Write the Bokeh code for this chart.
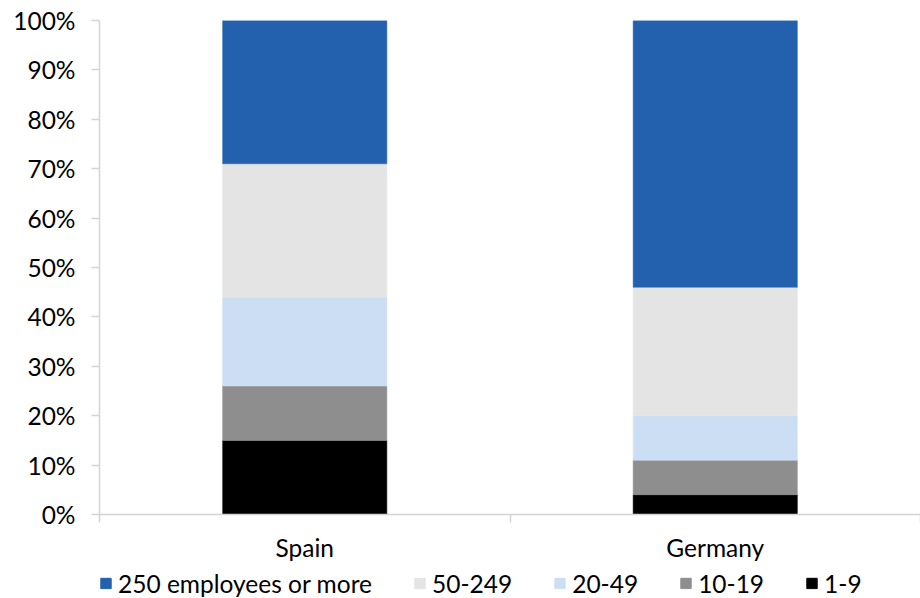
from bokeh.plotting import figure
from bokeh.layouts import column
from bokeh.models import (ColumnDataSource, Range1d, FixedTicker, PrintfTickFormatter,
                          Legend, LegendItem)
from bokeh.embed import file_html
from bokeh.resources import INLINE

categories = ["Spain", "Germany"]
series_names = ["1-9", "10-19", "20-49", "50-249", "250 employees or more"]
s_1_9 = [15, 4]
s_10_19 = [11, 7]
s_20_49 = [18, 9]
s_50_249 = [27, 26]
s_250 = [29, 54]
colors = ["#000000", "#8E8E8E", "#CCDEF3", "#E4E4E4", "#2361AE"]
y_ticks = [0, 10, 20, 30, 40, 50, 60, 70, 80, 90, 100]

FONT = "Lato"
FS = "24.5px"

positions = [i + 0.5 for i in range(len(categories))]
src = ColumnDataSource(dict(x=positions, a=s_1_9, b=s_10_19, c=s_20_49, d=s_50_249, e=s_250))
stackers = ["a", "b", "c", "d", "e"]

p = figure(width=920, height=568, output_backend="svg", toolbar_location=None,
           x_range=Range1d(0, len(categories)), y_range=Range1d(0, 100),
           min_border_left=99, min_border_top=20, min_border_right=0, min_border_bottom=54)
p.outline_line_color = None
p.xgrid.visible = False
p.ygrid.visible = False

rs = p.vbar_stack(stackers, x="x", width=0.4, source=src,
                  fill_color=colors, line_color=colors, line_width=0.5)

# y axis
p.yaxis.ticker = FixedTicker(ticks=y_ticks)
p.yaxis.formatter = PrintfTickFormatter(format="%d%%")
p.yaxis.axis_line_color = "#D4D4D4"
p.yaxis.axis_line_width = 1.5
p.yaxis.major_tick_line_color = "#D4D4D4"
p.yaxis.major_tick_line_width = 1.5
p.yaxis.major_tick_in = 0
p.yaxis.major_tick_out = 8
p.yaxis.minor_tick_line_color = None
p.yaxis.major_label_standoff = 16
p.yaxis.major_label_text_font = FONT
p.yaxis.major_label_text_font_size = FS
p.yaxis.major_label_text_color = "#000000"

# x axis: labels at centers, ticks at category boundaries
p.xaxis.ticker = FixedTicker(ticks=positions, minor_ticks=list(range(len(categories) + 1)))
p.xaxis.major_label_overrides = {pos: c for pos, c in zip(positions, categories)}
p.xaxis.axis_line_color = "#D4D4D4"
p.xaxis.axis_line_width = 1.5
p.xaxis.major_tick_line_color = None
p.xaxis.major_tick_in = 0
p.xaxis.major_tick_out = 8
p.xaxis.minor_tick_line_color = "#D4D4D4"
p.xaxis.minor_tick_line_width = 1.5
p.xaxis.minor_tick_in = 0
p.xaxis.minor_tick_out = 8
p.xaxis.major_label_standoff = 10
p.xaxis.major_label_text_font = FONT
p.xaxis.major_label_text_font_size = FS
p.xaxis.major_label_text_color = "#000000"

# legend strip below the chart (hidden stack renderers only supply the swatches)
lg = figure(width=920, height=30, output_backend="svg", toolbar_location=None,
            x_range=Range1d(0, len(categories)), y_range=Range1d(0, 100),
            min_border_left=0, min_border_right=0, min_border_top=0, min_border_bottom=0)
lg.axis.visible = False
lg.xgrid.visible = False
lg.ygrid.visible = False
lg.outline_line_color = None
swatches = lg.vbar_stack(stackers, x="x", width=0.4, source=src,
                         fill_color=colors, line_color=colors)
for r in swatches:
    r.visible = False

items = [LegendItem(label=name, renderers=[r]) for name, r in zip(series_names, swatches)][::-1]
legend = Legend(items=items, orientation="horizontal", location="left",
                border_line_color=None, background_fill_alpha=0,
                label_text_font=FONT, label_text_font_size=FS, label_text_color="#000000",
                glyph_width=13, glyph_height=13, label_standoff=6, spacing=41,
                padding=0, margin=0, click_policy="none")
lg.add_layout(legend, "center")

layout = column(p, lg, spacing=0)
open("out.html", "w").write(file_html(layout, INLINE))
